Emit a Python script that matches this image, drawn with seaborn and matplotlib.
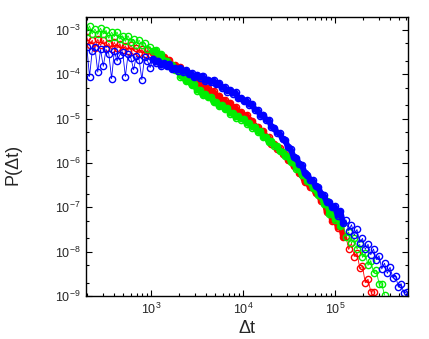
import matplotlib
matplotlib.use("Agg")
import matplotlib.pyplot as plt
import seaborn as sns
from matplotlib.ticker import FixedLocator, LogLocator, NullFormatter

# waiting-time distributions
# dt values and log10 of P(dt) for every plotted point
dt = [200, 214, 229, 245, 263, 282, 302, 324, 347, 372, 398, 427, 457, 490, 525, 562,
      603, 646, 692, 741, 794, 851, 912, 977,
      1047, 1122, 1202, 1288, 1380, 1479, 1585, 1698, 1820, 1950, 2089, 2239, 2399,
      2570, 2754, 2951, 3162, 3388, 3631, 3890, 4169, 4467, 4786, 5129, 5495, 5888,
      6310, 6761, 7244, 7762, 8318, 8913, 9550,
      10230, 10960, 11750, 12590, 13490, 14450, 15490, 16600, 17780, 19050, 20420,
      21880, 23440, 25120, 26920, 28840, 30900, 33110, 35480, 38020, 40740, 43650,
      46770, 50120, 53700, 57540, 61660, 66070, 70790, 75860, 81280, 87100, 93330,
      100000, 107200, 114800, 123000, 131800, 141300, 151400, 162200, 173800, 186200,
      199500, 213800, 229100, 245500, 263000, 281800, 302000, 323600, 346700, 371500,
      398100, 426600, 457100, 489800, 524800, 562300, 602600]

red_logp = [-3.17, -3.35, -3.23, -3.40, -3.21, -3.35, -3.23, -3.40, -3.30, -3.44,
            -3.28, -3.41, -3.31, -3.46, -3.36, -3.47, -3.35, -3.47, -3.40, -3.52,
            -3.44, -3.54, -3.46, -3.55,
            -3.51, -3.61, -3.58, -3.66, -3.61, -3.71, -3.68, -3.81, -3.79, -3.87,
            -3.84, -3.95, -3.94, -4.06, -4.04, -4.14, -4.10, -4.22, -4.20, -4.34,
            -4.32, -4.41, -4.38, -4.49, -4.48, -4.60, -4.58, -4.68, -4.64, -4.76,
            -4.74, -4.88, -4.86, -4.95, -4.92, -5.04, -5.05, -5.18, -5.18, -5.29,
            -5.28, -5.41, -5.42, -5.57, -5.58, -5.68, -5.67, -5.79, -5.80, -5.94,
            -5.94, -6.07, -6.07, -6.23, -6.26, -6.43, -6.44, -6.55, -6.55, -6.68,
            -6.70, -6.86,
            -6.83, -7.10, -7.03, -7.31, -7.19, -7.46, -7.37, -7.68, -7.65, -7.95,
            -7.81, -8.11, -8.02, -8.37, -8.33, -8.70, -8.62, -8.90, -8.91]

green_logp = [-3.04, -2.91, -3.09, -2.98, -3.10, -2.96, -3.09, -3.01, -3.19, -3.05,
              -3.15, -3.05, -3.21, -3.13, -3.26, -3.13, -3.28, -3.21, -3.34, -3.23,
              -3.35, -3.29, -3.43, -3.38,
              -3.47, -3.45, -3.56, -3.55, -3.70, -3.69, -3.82, -3.80, -3.90, -3.91,
              -4.05, -4.05, -4.16, -4.14, -4.25, -4.23, -4.37, -4.36, -4.47, -4.44,
              -4.52, -4.52, -4.63, -4.63, -4.72, -4.69, -4.79, -4.76, -4.89, -4.87,
              -4.98, -4.94, -5.02, -5.00, -5.11, -5.10, -5.20, -5.18, -5.30, -5.28,
              -5.42, -5.41, -5.53, -5.51, -5.61, -5.61, -5.74, -5.75, -5.85, -5.85,
              -5.98, -5.98, -6.13, -6.14, -6.28, -6.28, -6.40, -6.43, -6.57, -6.60,
              -6.73, -6.74,
              -6.93, -6.86, -7.15, -7.06, -7.28, -7.17, -7.43, -7.36, -7.67, -7.56,
              -7.81, -7.69, -7.94, -7.83, -8.13, -8.03, -8.31, -8.20, -8.47, -8.42,
              -8.72, -8.73, -8.98]

blue_logp = [-3.38, -4.05, -3.47, -3.39, -3.95, -3.44, -3.82, -3.44, -3.54, -4.10,
             -3.48, -3.70, -3.56, -3.49, -4.05, -3.55, -3.63, -3.90, -3.58, -3.67,
             -4.12, -3.60, -3.69, -3.85,
             -3.65, -3.74, -3.71, -3.81, -3.75, -3.82, -3.77, -3.89, -3.86, -3.92,
             -3.86, -3.95, -3.91, -4.00, -3.97, -4.07, -4.01, -4.08, -4.03, -4.15,
             -4.12, -4.18, -4.13, -4.23, -4.20, -4.31, -4.29, -4.39, -4.35, -4.44,
             -4.41, -4.54, -4.53, -4.61, -4.59, -4.69, -4.68, -4.80, -4.81, -4.94,
             -4.91, -5.03, -5.03, -5.19, -5.20, -5.32, -5.33, -5.47, -5.49, -5.65,
             -5.69, -5.86, -5.88, -6.02, -6.04, -6.22, -6.26, -6.38, -6.39, -6.53,
             -6.55, -6.70, -6.73, -6.88, -6.88, -7.00,
             -6.98, -7.19, -7.09, -7.36, -7.28, -7.53, -7.39, -7.63, -7.50, -7.80,
             -7.70, -7.95, -7.83, -8.07, -7.94, -8.18, -8.09, -8.39, -8.26, -8.49,
             -8.35, -8.59, -8.54, -8.80, -8.72, -8.93, -8.91]

x_ticks = [1e3, 1e4, 1e5]
y_ticks = [1e-9, 1e-8, 1e-7, 1e-6, 1e-5, 1e-4, 1e-3]

series = [(red_logp, "#ff0000"), (green_logp, "#00ee00"), (blue_logp, "#0000ff")]

sns.set_style("ticks")
plt.rcParams["font.family"] = ["Liberation Sans", "DejaVu Sans"]
plt.rcParams["mathtext.default"] = "regular"

fig = plt.figure(figsize=(4.29, 3.39), dpi=100)
ax = fig.add_axes([0.2005, 0.1268, 0.7501, 0.8231])
ax.set_xscale("log")
ax.set_yscale("log")

for logp, c in series:
    p = [10 ** v for v in logp]
    # dense middle part of each curve shows up as a solid band
    sns.lineplot(x=dt[24:94], y=p[24:94], ax=ax, color=c, lw=4.2,
                 estimator=None, sort=False)
    sns.lineplot(x=dt[:len(p)], y=p, ax=ax, color=c, lw=0.6, marker="o", markersize=4.5,
                 markerfacecolor="none", markeredgecolor=c, markeredgewidth=1.0,
                 estimator=None, sort=False)

ax.set_xlim(196, 621000)
ax.set_ylim(1e-9, 1.96e-3)

ax.xaxis.set_major_locator(FixedLocator(x_ticks))
ax.xaxis.set_minor_locator(LogLocator(base=10, subs=range(2, 10), numticks=12))
ax.xaxis.set_minor_formatter(NullFormatter())
ax.yaxis.set_major_locator(FixedLocator(y_ticks))
ax.yaxis.set_minor_locator(LogLocator(base=10, subs=(2, 5), numticks=15))
ax.yaxis.set_minor_formatter(NullFormatter())

ax.tick_params(which="both", direction="in", top=True, right=True,
               width=0.8, color="black", labelsize=9)
ax.tick_params(which="major", length=4.5)
ax.tick_params(which="minor", length=2.5)
ax.tick_params(axis="both", pad=4)
for s in ax.spines.values():
    s.set_color("black")
    s.set_linewidth(1)

ax.set_xlabel("\u0394t", fontsize=13, labelpad=2)
ax.set_ylabel("P(\u0394t)", fontsize=13)
ax.yaxis.set_label_coords(-0.2, 0.47)

fig.savefig("out.png", dpi=100)
